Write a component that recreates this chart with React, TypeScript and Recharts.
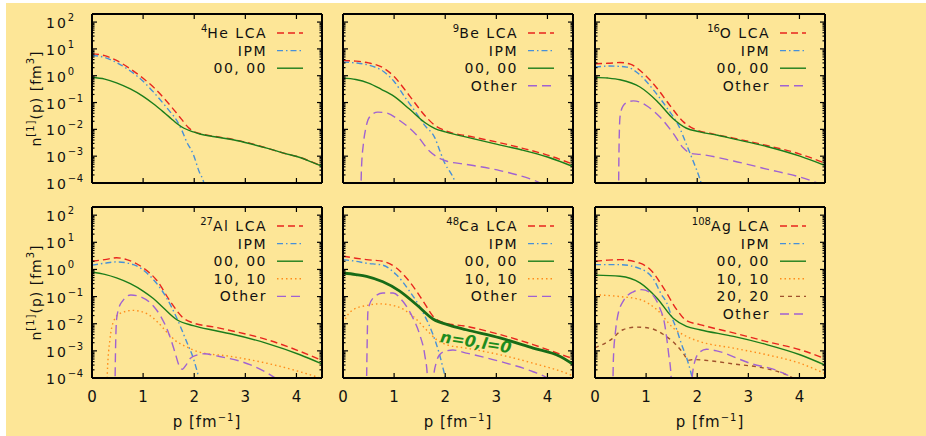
import React from 'react';
import { LineChart, Line, XAxis, YAxis, ReferenceDot } from 'recharts';

type Pt = [number, number];

// momentum axis ticks and log decades
const pTicks = [0, 1, 2, 3, 4];
const decades = [-4, -3, -2, -1, 0, 1, 2];
const Y_MAX = 200;

// 4He
const heLCA: Pt[] = [[0, 6.5], [0.25, 5.6], [0.48, 3.7], [0.75, 1.8], [1.0, 0.8], [1.2, 0.38], [1.4, 0.15], [1.59, 0.057], [1.75, 0.024], [1.88, 0.012], [1.98, 0.0085], [2.11, 0.007], [2.4, 0.0055], [2.76, 0.0042], [3.1, 0.003], [3.42, 0.002], [3.75, 0.0013], [4.07, 9e-4], [4.3, 6.1e-4], [4.5, 4.3e-4]];
const heIPM: Pt[] = [[0, 5.7], [0.25, 4.8], [0.48, 3.1], [0.75, 1.5], [1.0, 0.62], [1.2, 0.25], [1.4, 0.09], [1.53, 0.045], [1.66, 0.021], [1.76, 0.009], [1.85, 0.0035], [1.98, 0.0012], [2.11, 2.3e-4], [2.16, 1.5e-4], [2.22, 6e-5]];
const heS00: Pt[] = [[0, 0.88], [0.25, 0.75], [0.48, 0.54], [0.75, 0.32], [1.0, 0.17], [1.2, 0.09], [1.4, 0.044], [1.55, 0.025], [1.66, 0.0165], [1.8, 0.011], [1.98, 0.0081], [2.11, 0.0067], [2.4, 0.0053], [2.76, 0.0041], [3.1, 0.0029], [3.42, 0.002], [3.75, 0.0013], [4.07, 8.9e-4], [4.3, 6e-4], [4.5, 4.2e-4]];

// 9Be
const beLCA: Pt[] = [[0, 3.7], [0.25, 3.5], [0.5, 3.0], [0.8, 1.9], [1.0, 0.93], [1.2, 0.32], [1.4, 0.1], [1.6, 0.033], [1.8, 0.014], [2.0, 0.0089], [2.5, 0.0054], [3.0, 0.0034], [3.5, 0.002], [4.0, 0.0011], [4.5, 5e-4]];
const beIPM: Pt[] = [[0, 3.2], [0.25, 3.0], [0.5, 2.5], [0.8, 1.4], [1.0, 0.61], [1.2, 0.17], [1.4, 0.05], [1.6, 0.014], [1.8, 0.0047], [1.9, 0.0015], [2.0, 5e-4], [2.1, 2.5e-4], [2.17, 1.4e-4], [2.25, 5e-5]];
const beS00: Pt[] = [[0, 0.81], [0.25, 0.72], [0.5, 0.53], [0.75, 0.31], [1.0, 0.17], [1.3, 0.057], [1.6, 0.018], [1.8, 0.0107], [2.0, 0.0081], [2.5, 0.0047], [3.0, 0.0028], [3.5, 0.0017], [4.0, 9.3e-4], [4.5, 4.1e-4]];
const beOther: Pt[] = [[0.34, 1e-6], [0.36, 3e-4], [0.4, 3e-3], [0.45, 0.012], [0.52, 0.029], [0.68, 0.044], [0.85, 0.041], [1.1, 0.022], [1.44, 0.0062], [1.7, 0.0015], [1.89, 8.3e-4], [2.02, 6.6e-4], [2.4, 5e-4], [3.07, 2.9e-4], [3.72, 1.3e-4], [4.2, 5e-5]];

// 16O
const oLCA: Pt[] = [[0, 2.8], [0.25, 2.9], [0.49, 3.1], [0.69, 2.7], [0.95, 1.2], [1.21, 0.35], [1.47, 0.076], [1.73, 0.019], [1.99, 0.0094], [2.3, 0.0068], [2.71, 0.0047], [3.36, 0.0025], [4.01, 0.0012], [4.5, 5.5e-4]];
const oIPM: Pt[] = [[0, 2.1], [0.29, 2.3], [0.62, 2.1], [0.88, 1.07], [1.14, 0.3], [1.4, 0.066], [1.66, 0.011], [1.79, 0.0027], [1.92, 6.6e-4], [2.05, 1.45e-4], [2.12, 5e-5]];
const oS00: Pt[] = [[0, 0.87], [0.25, 0.82], [0.49, 0.71], [0.88, 0.38], [1.21, 0.115], [1.53, 0.025], [1.79, 0.011], [2.05, 0.0081], [2.4, 0.006], [2.71, 0.0044], [3.36, 0.0023], [4.01, 0.001], [4.5, 4.5e-4]];
const oOther: Pt[] = [[0.455, 1e-6], [0.47, 2e-3], [0.49, 0.03], [0.55, 0.075], [0.65, 0.105], [0.75, 0.115], [0.9, 0.1], [1.01, 0.076], [1.27, 0.029], [1.53, 0.0071], [1.73, 0.002], [1.89, 1.25e-3], [2.05, 1.17e-3], [2.71, 6.6e-4], [3.36, 3.3e-4], [4.01, 1.66e-4], [4.5, 8e-5]];

// 27Al
const alLCA: Pt[] = [[0, 2.0], [0.25, 2.3], [0.48, 2.7], [0.68, 2.3], [1.0, 1.15], [1.27, 0.39], [1.53, 0.067], [1.79, 0.016], [1.98, 0.0107], [2.4, 0.0075], [2.77, 0.0053], [3.42, 0.0026], [4.07, 9.6e-4], [4.5, 4.4e-4]];
const alIPM: Pt[] = [[0, 1.43], [0.25, 1.7], [0.48, 1.9], [0.81, 1.5], [1.14, 0.56], [1.46, 0.089], [1.66, 0.016], [1.85, 0.0022], [1.98, 5.5e-4], [2.08, 1.2e-4], [2.13, 5e-5]];
const alS00: Pt[] = [[0, 0.81], [0.25, 0.66], [0.48, 0.49], [0.75, 0.3], [1.0, 0.16], [1.2, 0.085], [1.4, 0.038], [1.66, 0.014], [1.98, 0.0085], [2.4, 0.0056], [2.77, 0.004], [3.42, 0.0019], [4.07, 7.2e-4], [4.5, 3.3e-4]];
const alS10: Pt[] = [[0.28, 1e-6], [0.3, 1.5e-4], [0.35, 2.5e-3], [0.42, 0.012], [0.55, 0.024], [0.8, 0.031], [1.1, 0.022], [1.3, 0.0107], [1.46, 0.005], [1.63, 0.0024], [1.85, 0.0014], [2.1, 9e-4], [2.7, 6.3e-4], [3.42, 3.5e-4], [4.07, 1.7e-4], [4.5, 9.5e-5]];
const alOther: Pt[] = [[0.44, 1e-6], [0.46, 1e-3], [0.48, 0.014], [0.52, 0.035], [0.6, 0.07], [0.76, 0.115], [0.94, 0.1], [1.2, 0.045], [1.35, 0.018], [1.5, 0.0045], [1.63, 8e-4], [1.7, 3e-4], [1.77, 2.1e-4], [1.84, 3e-4], [1.92, 5.2e-4], [2.05, 7e-4], [2.2, 7.8e-4], [2.44, 6.5e-4], [3.09, 3.1e-4], [3.55, 1.1e-4], [3.8, 5e-5]];

// 48Ca
const caLCA: Pt[] = [[0, 3.1], [0.25, 2.6], [0.46, 2.3], [0.78, 2.0], [1.04, 1.15], [1.3, 0.36], [1.57, 0.067], [1.76, 0.019], [1.96, 0.011], [2.41, 0.008], [3.07, 0.004], [3.72, 0.0017], [4.37, 6.3e-4], [4.5, 5.2e-4]];
const caIPM: Pt[] = [[0, 2.3], [0.25, 2.0], [0.46, 1.7], [0.78, 1.43], [1.04, 0.65], [1.3, 0.16], [1.57, 0.025], [1.76, 0.004], [1.89, 7.2e-4], [1.99, 1.3e-4], [2.05, 5e-5]];
const caS00: Pt[] = [[0, 0.74], [0.25, 0.65], [0.46, 0.56], [0.78, 0.35], [1.11, 0.16], [1.44, 0.05], [1.76, 0.015], [2.09, 0.0087], [2.41, 0.006], [3.07, 0.003], [3.72, 0.00126], [4.24, 6.3e-4], [4.5, 3.2e-4]];
const caS10: Pt[] = [[0, 0.0107], [0.1, 0.022], [0.2, 0.033], [0.46, 0.047], [0.72, 0.054], [1.04, 0.044], [1.37, 0.019], [1.63, 0.006], [1.83, 0.0026], [2.02, 0.0017], [2.41, 0.00126], [3.07, 7.2e-4], [3.72, 3.5e-4], [4.37, 1.5e-4], [4.5, 1.2e-4]];
const caOther: Pt[] = [[0.45, 1e-6], [0.47, 1e-3], [0.49, 0.033], [0.59, 0.089], [0.78, 0.135], [0.98, 0.135], [1.17, 0.067], [1.37, 0.016], [1.5, 0.004], [1.6, 7e-4], [1.65, 1.2e-4], [1.71, 1e-7], [1.77, 1e-4], [1.83, 4e-4], [1.89, 7.2e-4], [2.02, 1.0e-3], [2.15, 1.07e-3], [2.41, 8.3e-4], [3.07, 4.1e-4], [3.72, 1.7e-4], [4.0, 1e-4], [4.2, 5e-5]];

// 108Ag
const agLCA: Pt[] = [[0, 2.0], [0.25, 2.2], [0.49, 2.3], [0.88, 1.7], [1.08, 1.0], [1.34, 0.21], [1.6, 0.033], [1.79, 0.013], [2.05, 0.0093], [2.71, 0.0046], [3.36, 0.0022], [4.01, 0.0011], [4.5, 5.2e-4]];
const agIPM: Pt[] = [[0, 1.5], [0.49, 1.5], [0.88, 1.07], [1.14, 0.45], [1.3, 0.12], [1.4, 0.06], [1.5, 0.018], [1.6, 0.006], [1.7, 0.0016], [1.8, 5e-4], [1.88, 1.5e-4], [1.94, 5e-5]];
const agS00: Pt[] = [[0, 0.62], [0.49, 0.56], [0.88, 0.32], [1.21, 0.089], [1.53, 0.016], [1.79, 0.008], [2.05, 0.006], [2.71, 0.0034], [3.36, 0.0017], [4.01, 7.2e-4], [4.5, 3e-4]];
const agS10: Pt[] = [[0, 0.117], [0.49, 0.1], [0.88, 0.078], [1.21, 0.033], [1.53, 0.007], [1.79, 0.0034], [2.05, 0.0022], [2.71, 0.00126], [3.36, 7.2e-4], [4.01, 3.5e-4], [4.5, 1.45e-4]];
const agS20: Pt[] = [[0, 1.3e-3], [0.3, 2.5e-3], [0.55, 0.006], [0.82, 0.0075], [1.08, 0.0068], [1.34, 0.004], [1.57, 0.0018], [1.72, 8.5e-4], [1.83, 4.5e-4], [1.93, 4.8e-4], [2.15, 4.5e-4], [2.71, 3.3e-4], [3.36, 2.2e-4], [3.75, 1.3e-4], [3.95, 8e-5]];
const agOther: Pt[] = [[0.34, 1e-6], [0.36, 5e-4], [0.4, 5e-3], [0.43, 0.014], [0.55, 0.067], [0.75, 0.15], [0.91, 0.18], [1.06, 0.15], [1.24, 0.05], [1.37, 0.008], [1.44, 8e-4], [1.49, 1e-4], [1.53, 1e-7], [1.86, 1e-7], [1.9, 1e-4], [1.96, 4.5e-4], [2.05, 9e-4], [2.18, 1.15e-3], [2.38, 1.0e-3], [3.03, 3.5e-4], [3.62, 1.7e-4], [3.85, 1e-4], [4.0, 5e-5]];

const FONT = '"DejaVu Sans", sans-serif';
const BG = '#fde697';

const STYLE: Record<string, { stroke: string; dash?: string; label: string }> = {
  lca: { stroke: '#e8251e', dash: '7 4', label: 'LCA' },
  ipm: { stroke: '#4790d8', dash: '6 3 1.5 3', label: 'IPM' },
  s00: { stroke: '#1b7d1b', label: '00, 00' },
  s10: { stroke: '#ff8c1a', dash: '1.5 3', label: '10, 10' },
  s20: { stroke: '#a0522d', dash: '4 4', label: '20, 20' },
  other: { stroke: '#a062d2', dash: '9 5', label: 'Other' },
};

type Series = { key: string; data: Pt[] };
type PanelDef = { a: string; el: string; col: number; row: number; series: Series[]; thick?: boolean };

const panels: PanelDef[] = [
  { a: '4', el: 'He', col: 0, row: 0, series: [{ key: 'lca', data: heLCA }, { key: 'ipm', data: heIPM }, { key: 's00', data: heS00 }] },
  { a: '9', el: 'Be', col: 1, row: 0, series: [{ key: 'lca', data: beLCA }, { key: 'ipm', data: beIPM }, { key: 's00', data: beS00 }, { key: 'other', data: beOther }] },
  { a: '16', el: 'O', col: 2, row: 0, series: [{ key: 'lca', data: oLCA }, { key: 'ipm', data: oIPM }, { key: 's00', data: oS00 }, { key: 'other', data: oOther }] },
  { a: '27', el: 'Al', col: 0, row: 1, series: [{ key: 'lca', data: alLCA }, { key: 'ipm', data: alIPM }, { key: 's00', data: alS00 }, { key: 's10', data: alS10 }, { key: 'other', data: alOther }] },
  { a: '48', el: 'Ca', col: 1, row: 1, thick: true, series: [{ key: 'lca', data: caLCA }, { key: 'ipm', data: caIPM }, { key: 's00', data: caS00 }, { key: 's10', data: caS10 }, { key: 'other', data: caOther }] },
  { a: '108', el: 'Ag', col: 2, row: 1, series: [{ key: 'lca', data: agLCA }, { key: 'ipm', data: agIPM }, { key: 's00', data: agS00 }, { key: 's10', data: agS10 }, { key: 's20', data: agS20 }, { key: 'other', data: agOther }] },
];

// log ticks: majors at decades, minors 2..9 in between
const yTicks: number[] = [];
decades.forEach((d) => {
  for (let m = 1; m <= 9; m++) {
    const v = m * Math.pow(10, d);
    if (v <= Y_MAX * 0.999 && (d < decades[decades.length - 1] || m === 1)) yTicks.push(v);
  }
});

const COLS = [92, 343, 595];
const ROWS = [{ top: 14, h: 169 }, { top: 207, h: 171 }];
const PW = 230;
const ML = 80, MT = 10, MR = 20, MB = 60;

const sup = (e: number) => (e < 0 ? '\u2212' + -e : String(e));

const makeYTick = (side: 'left' | 'right', labels: boolean) => (props: any) => {
  const { x, y, payload } = props;
  const lg = Math.log10(payload.value);
  const e = Math.round(lg);
  const major = Math.abs(lg - e) < 1e-6;
  const len = major ? 5 : 2.5;
  const dir = side === 'left' ? 1 : -1;
  return (
    <g>
      <line x1={x} y1={y} x2={x + dir * len} y2={y} stroke="#000" strokeWidth={1.2} />
      {labels && major && (
        <text x={x - 46} y={y + 6} fontSize={14} fontFamily={FONT} letterSpacing={2} fill="#111">
          10<tspan dy={-7} fontSize={10} letterSpacing={0.5}>{sup(e)}</tspan>
        </text>
      )}
    </g>
  );
};

const makeXTick = (side: 'top' | 'bottom', labels: boolean) => (props: any) => {
  const { x, y, payload } = props;
  const dir = side === 'bottom' ? -1 : 1;
  return (
    <g>
      <line x1={x} y1={y} x2={x} y2={y + dir * 5} stroke="#000" strokeWidth={1.2} />
      {labels && (
        <text x={x} y={y + 24} textAnchor="middle" fontSize={15} fontFamily={FONT} fill="#111">
          {payload.value}
        </text>
      )}
    </g>
  );
};

const axisLine = { stroke: '#000', strokeWidth: 2 };

function Panel({ def }: { def: PanelDef }) {
  const { top, h } = ROWS[def.row];
  const left = COLS[def.col];
  const W = PW + ML + MR;
  const H = h + MT + MB;
  const pos: React.CSSProperties = { position: 'absolute', left: left - ML, top: top - MT, width: W, height: H };
  const ox = ML + PW;
  // axes get 1px of room each, so margins are shrunk by 1 to keep the plot box in place
  return (
    <>
      <div style={pos}>
        <LineChart width={W} height={H} margin={{ top: MT - 1, right: MR - 1, bottom: MB - 1, left: ML - 1 }}>
          <XAxis dataKey="p" type="number" domain={[0, 4.5]} ticks={pTicks} interval={0} allowDataOverflow height={1}
            tickSize={0} tickMargin={0} tickLine={false} axisLine={axisLine} tick={makeXTick('bottom', def.row === 1)} />
          <XAxis xAxisId="t" orientation="top" dataKey="p" type="number" domain={[0, 4.5]} ticks={pTicks} interval={0}
            allowDataOverflow height={1} tickSize={0} tickMargin={0} tickLine={false} axisLine={axisLine} tick={makeXTick('top', false)} />
          <YAxis scale="log" type="number" domain={[1e-4, Y_MAX]} ticks={yTicks} interval={0} allowDataOverflow width={1}
            tickSize={0} tickMargin={0} tickLine={false} axisLine={axisLine} tick={makeYTick('left', def.col === 0)} />
          <YAxis yAxisId="r" orientation="right" scale="log" type="number" domain={[1e-4, Y_MAX]} ticks={yTicks} interval={0}
            allowDataOverflow width={1} tickSize={0} tickMargin={0} tickLine={false} axisLine={axisLine} tick={makeYTick('right', false)} />
          {def.series.map((s) => {
            const st = STYLE[s.key];
            const thick = def.thick && s.key === 's00';
            return (
              <Line key={s.key} data={s.data.map(([p, n]) => ({ p, n }))} dataKey="n" type="monotone"
                stroke={thick ? '#176b17' : st.stroke} strokeDasharray={st.dash} strokeWidth={thick ? 2.8 : 1.4}
                dot={false} activeDot={false} isAnimationActive={false} />
            );
          })}
          {def.thick && (
            <ReferenceDot x={2.6} y={2.1e-3} r={1}
              shape={(p: any) => (
                <text x={p.cx} y={p.cy} textAnchor="middle" dominantBaseline="central" transform={`rotate(9 ${p.cx} ${p.cy})`}
                  fontSize={16} fontWeight="bold" fontStyle="italic" fontFamily={FONT} fill="#1e8c1e">
                  n=0,l=0
                </text>
              )} />
          )}
        </LineChart>
      </div>
      <svg style={{ ...pos, overflow: 'visible', pointerEvents: 'none' }} width={W} height={H}>
        <g fontFamily={FONT} fontSize={14} fill="#111">
          {def.series.map((s, i) => {
            const st = STYLE[s.key];
            const y = MT + 19 + i * 17.6;
            return (
              <g key={s.key}>
                <text x={ox - 55} y={y + 5} textAnchor="end" letterSpacing={1.5}>
                  {i === 0 ? (
                    <>
                      <tspan fontSize={10} dy={-6} letterSpacing={0}>{def.a}</tspan>
                      <tspan dy={6}>{def.el} {st.label}</tspan>
                    </>
                  ) : st.label}
                </text>
                <line x1={ox - 45} x2={ox - 19} y1={y} y2={y} stroke={st.stroke} strokeDasharray={st.dash} strokeWidth={1.4} />
              </g>
            );
          })}
          {def.col === 0 && (
            <text x={ML - 56} y={MT + h / 2} textAnchor="middle" dominantBaseline="central" letterSpacing={1}
              transform={`rotate(-90 ${ML - 56} ${MT + h / 2})`}>
              n<tspan fontSize={10} dy={-6}>[1]</tspan><tspan dy={6}>(p) [fm</tspan><tspan fontSize={10} dy={-6}>3</tspan><tspan dy={6}>]</tspan>
            </text>
          )}
          {def.row === 1 && (
            <text x={ML + PW / 2} y={MT + h + 49} textAnchor="middle" letterSpacing={1} fontSize={15}>
              p [fm<tspan fontSize={10} dy={-6}>{'\u2212'}1</tspan><tspan dy={6}>]</tspan>
            </text>
          )}
        </g>
      </svg>
    </>
  );
}

export default function App() {
  return (
    <div>
      <div style={{ position: 'absolute', left: 6, top: 3, width: 920, height: 433, background: BG }} />
      {panels.map((d) => (
        <Panel key={d.el} def={d} />
      ))}
    </div>
  );
}
